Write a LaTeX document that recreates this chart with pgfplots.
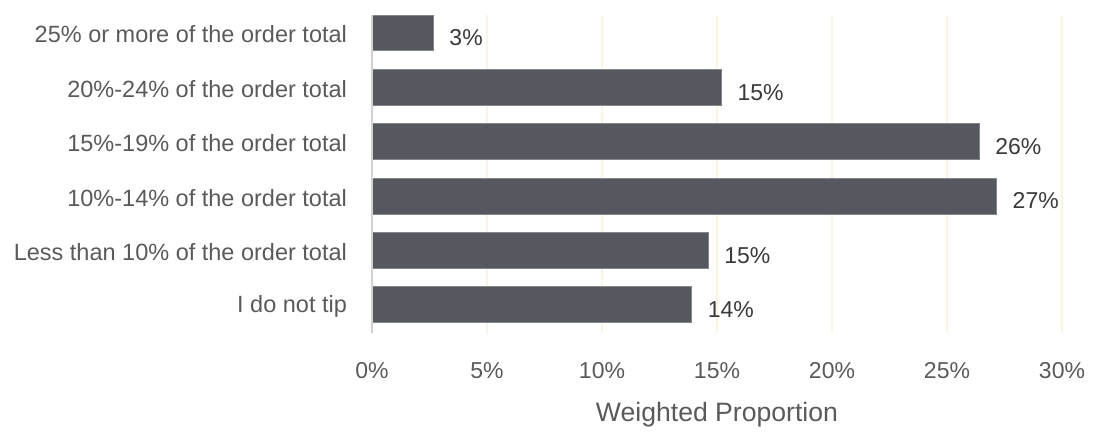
\documentclass[border=0pt]{standalone}
\usepackage{fontspec}
\setmainfont{Liberation Sans}
\usepackage{pgfplots}
\pgfplotsset{compat=1.18}
\definecolor{barfill}{HTML}{55595F}
\definecolor{baredge}{HTML}{82858A}
\definecolor{gridc}{HTML}{FAF4E2}
\definecolor{axisc}{HTML}{D2D2D2}
\definecolor{labc}{HTML}{5A5A5A}
\definecolor{valc}{HTML}{3A3A3A}
\begin{document}
\begin{tikzpicture}
\begin{axis}[
  scale only axis,
  width=345pt, height=159pt,
  xbar, bar width=0.66,
  xmin=0, xmax=30,
  ymin=-0.52, ymax=5.33,
  clip=false,
  axis line style={draw=none},
  axis x line*=bottom,
  axis y line*=left,
  xtick={0,5,10,15,20,25,30},
  xticklabel={\pgfmathprintnumber{\tick}\%},
  xticklabel style={font=\fontsize{11.5}{13}\selectfont, text=labc, yshift=-11pt},
  /pgf/number format/assume math mode=true,
  ytick={0,1,2,3,4,5},
  yticklabels={I do not tip, Less than 10\% of the order total, 10\%-14\% of the order total, 15\%-19\% of the order total, 20\%-24\% of the order total, 25\% or more of the order total},
  yticklabel style={font=\fontsize{11.75}{13}\selectfont, text=labc, xshift=-9pt, yshift=-0.8pt},
  major tick length=0pt,
  xmajorgrids, grid style={draw=gridc, line width=0.6pt},
  xlabel={Weighted Proportion},
  xlabel style={font=\fontsize{13.3}{15}\selectfont, text=labc, yshift=-5pt},
  nodes near coords={\pgfmathprintnumber[fixed,precision=0]{\pgfplotspointmeta}\%},
  nodes near coords style={font=\fontsize{11.5}{13}\selectfont, text=valc, anchor=west, xshift=4.5pt, yshift=-2.5pt},
  point meta=explicit,
]
\addplot[fill=barfill, draw=baredge, line width=0.4pt] coordinates {
  (13.9,0) [14]
  (14.62,1) [15]
  (27.16,2) [27]
  (26.4,3) [26]
  (15.2,4) [15]
  (2.67,5) [3]
};
\draw[axisc, line width=0.6pt] (axis cs:0,-0.52) -- (axis cs:0,5.33);
\path (rel axis cs:0,0) ++(-186pt,-45pt) coordinate (bbA);
\path (rel axis cs:1,1) ++(20.5pt,7.5pt) coordinate (bbB);
\path (bbA) rectangle (bbB);
\end{axis}
\end{tikzpicture}
\end{document}
